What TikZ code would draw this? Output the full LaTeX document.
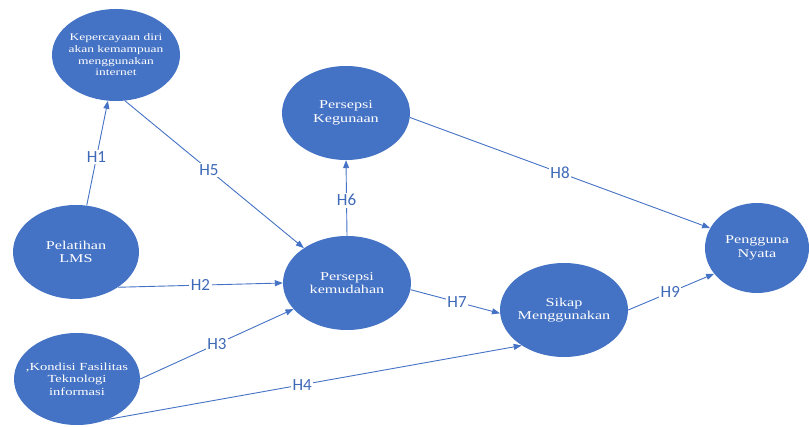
\documentclass[tikz,border=0pt]{standalone}
\usepackage{fontspec}
\setmainfont{Liberation Serif}
\newfontfamily\nodefont[FakeStretch=1.35]{Liberation Serif}
\newfontfamily\labfont{Carlito}
\usetikzlibrary{shapes.geometric,arrows.meta}
\definecolor{nblue}{HTML}{4472C4}
\definecolor{lblue}{HTML}{3F6AB8}
\tikzset{
  var/.style={ellipse, fill=nblue, draw=none, inner sep=-30pt, text=white, align=center,
    font=\nodefont\fontsize{12}{13.5}\selectfont},
  conn/.style={draw=nblue, line width=0.9pt, -{Triangle[length=8pt,width=6pt]}},
  hlab/.style={fill=white, inner sep=1.5pt, text=lblue, font=\labfont\fontsize{17}{17}\selectfont}
}
\begin{document}
\begin{tikzpicture}[x=1pt,y=-1pt]
\useasboundingbox (0,0) rectangle (809,427);
\node[var, minimum width=128pt, minimum height=92pt, font=\nodefont\fontsize{10}{11.7}\selectfont] (K) at (116,55) {Kepercayaan diri\\akan kemampuan\\menggunakan\\internet};
\node[var, minimum width=126pt, minimum height=94pt] (L) at (76,252) {Pelatihan\\LMS};
\node[var, minimum width=126pt, minimum height=92pt, font=\nodefont\fontsize{10.8}{12.5}\selectfont] (F) at (77,379) {,Kondisi Fasilitas\\Teknologi\\informasi};
\node[var, minimum width=128pt, minimum height=94pt] (G) at (346,113) {Persepsi\\Kegunaan};
\node[var, minimum width=128pt, minimum height=94pt] (M) at (347,283) {Persepsi\\kemudahan};
\node[var, minimum width=128pt, minimum height=94pt] (S) at (564,310) {Sikap\\Menggunakan};
\node[var, minimum width=104pt, minimum height=90pt] (N) at (757,248) {Pengguna\\Nyata};

\draw[conn] (L.77) -- node[hlab, pos=0.46] {H1} (K.260);
\draw[conn] (K.-79) -- node[hlab, pos=0.47] {H5} (M.141);
\draw[conn] (M.90) -- node[hlab, pos=0.47] {H6} (G.270);
\draw[conn] (G.-4.5) -- node[hlab, pos=0.5] {H8} (N.157);
\draw[conn] (L.-40) -- node[hlab, pos=0.5] {H2} (M.180);
\draw[conn] (M.-6) -- node[hlab, pos=0.52] {H7} (S.183);
\draw[conn] (S.0) -- node[hlab, pos=0.49] {H9} (N.211);
\draw[conn] (F.0) -- node[hlab, pos=0.5] {H3} (M.206);
\draw[conn] (F.-53) -- node[hlab, pos=0.47] {H4} (S.220);
\end{tikzpicture}
\end{document}
